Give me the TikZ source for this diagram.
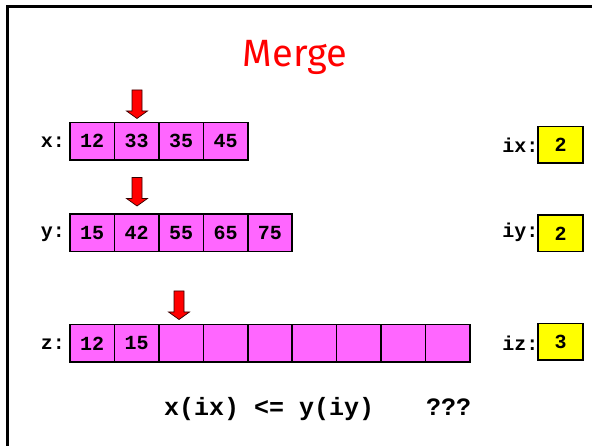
\documentclass[tikz,border=0pt]{standalone}
\usepackage{fontspec}
\setmonofont{Liberation Mono}
\newfontfamily\titlefont{Fira Sans}
\definecolor{cellpink}{HTML}{FF66FF}
\definecolor{boxyellow}{HTML}{FFFF00}
\definecolor{arrowred}{HTML}{FF0000}
\newcommand{\cellfont}{\ttfamily\bfseries\fontsize{20}{24}\selectfont}
\newcommand{\condfont}{\ttfamily\bfseries\fontsize{25}{29}\selectfont}
\tikzset{
  cell/.style={draw=black, line width=1.5pt, fill=cellpink, minimum width=44.44pt,
    minimum height=37.5pt, inner sep=0pt, outer sep=0pt, font=\cellfont},
  ybox/.style={draw=black, line width=1.5pt, fill=boxyellow, minimum width=45pt,
    minimum height=36.5pt, inner sep=0pt, outer sep=0pt, font=\cellfont},
  lbl/.style={anchor=east, inner sep=0pt, font=\cellfont},
  downarrow/.pic={
    \draw[fill=arrowred, draw=black!80!red, line width=0.7pt]
      (-5,0) -- (5,0) -- (5,21) -- (10.5,21) -- (0,28.5) -- (-10.5,21) -- (-5,21) -- cycle;
  }
}
\begin{document}
\begin{tikzpicture}[x=1pt,y=-1pt]
\useasboundingbox (0,0) rectangle (592,446);
\fill[white] (0,0) rectangle (592,446);
\begin{scope}
  \clip (0,0) rectangle (592,446);
  \draw[line width=3pt] (7.5,6.5) rectangle (640,480);
\end{scope}

% title
\node[anchor=base, text=red, font=\titlefont\fontsize{38}{44}\selectfont, inner sep=0pt] (title) at (295,67) {Merge};

% x array
\node[lbl] (xl) at (65,142) {x:};
\foreach \v [count=\i from 0] in {12,33,35,45}
  \node[cell] (x\i) at ({92.22+44.44*\i},141.25) {\v};
% y array
\node[lbl] (yl) at (65,234) {y:};
\foreach \v [count=\i from 0] in {15,42,55,65,75}
  \node[cell] (y\i) at ({92.22+44.44*\i},233) {\v};
% z array
\node[lbl] (zl) at (65,344) {z:};
\foreach \v [count=\i from 0] in {12,15,,,,,,,}
  \node[cell] (z\i) at ({92.22+44.44*\i},343.5) {\v};

% pointer arrows
\pic at (137,90) {downarrow};
\pic at (137,177.5) {downarrow};
\pic at (179,291) {downarrow};

% index boxes
\node[ybox] (ix) at (560.5,145) {2};
\node[lbl] (ixl) at (538.5,145) {ix:};
\node[ybox] (iy) at (560.5,233.5) {2};
\node[lbl] (iyl) at (538.5,232) {iy:};
\node[ybox] (iz) at (560.5,342) {3};
\node[lbl] (izl) at (538.5,343) {iz:};

% condition
\node[anchor=base west, inner sep=0pt, font=\condfont] (cond) at (164,416) {x(ix) <= y(iy)};
\node[anchor=base west, inner sep=0pt, font=\condfont] (qq) at (426,416) {???};
\end{tikzpicture}
\end{document}
